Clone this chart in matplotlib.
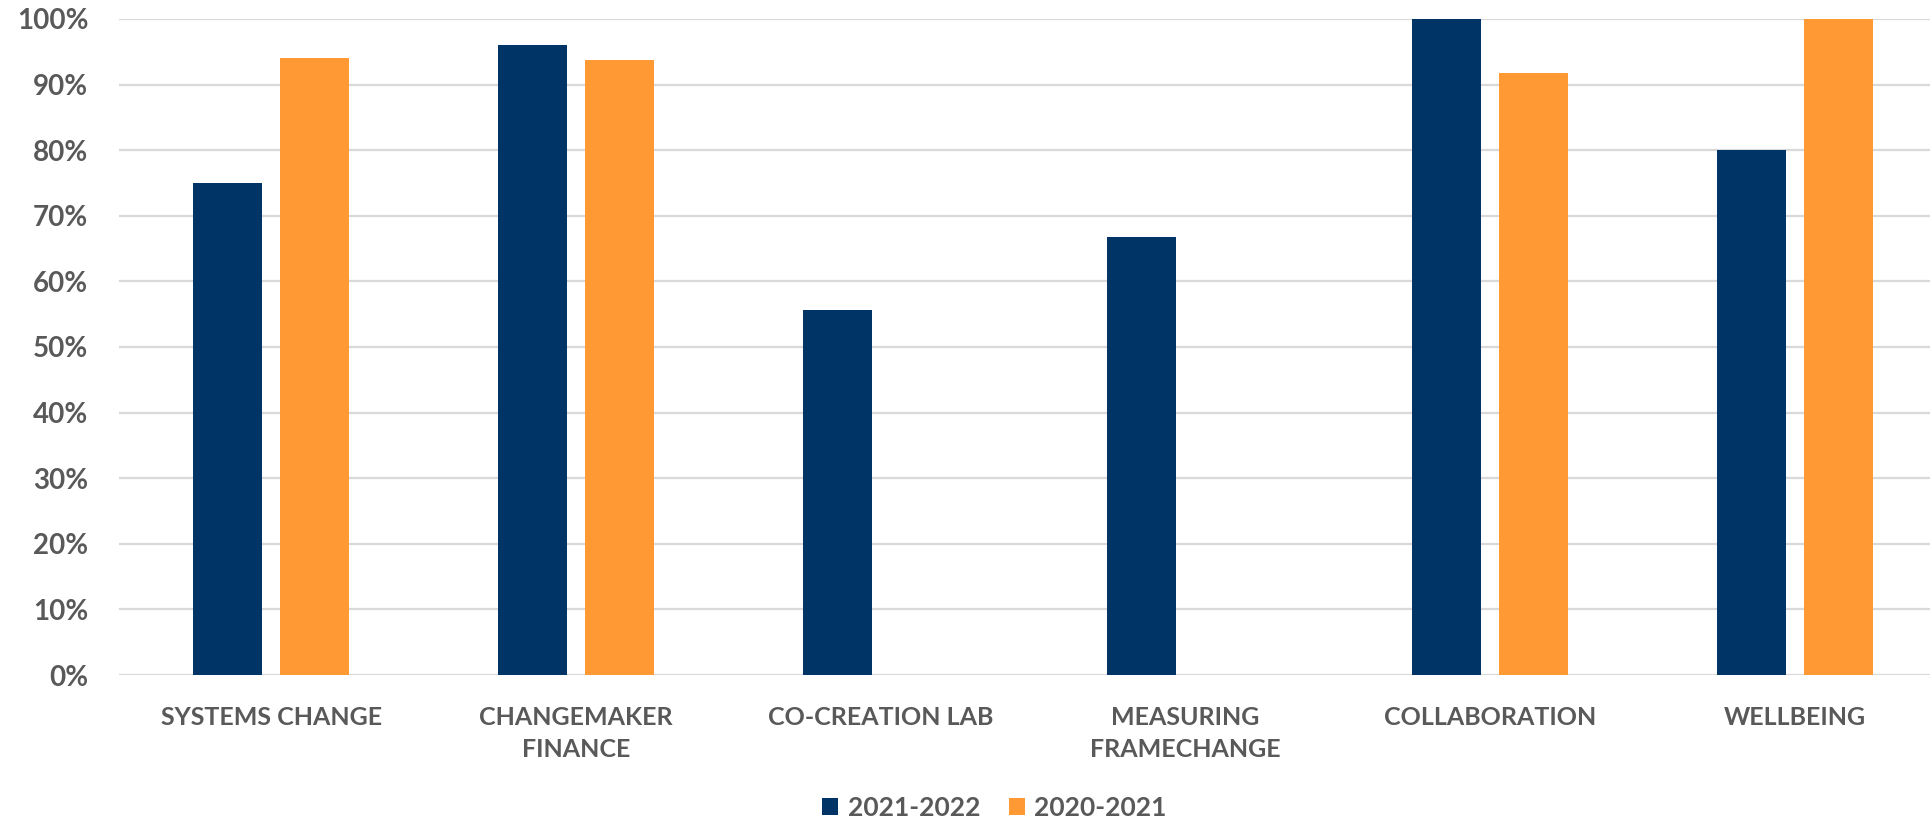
import numpy as np
import matplotlib
matplotlib.use("Agg")
from matplotlib import pyplot as plt
from matplotlib.ticker import PercentFormatter

# Survey results per programme area (share of participants, %)
categories = ["SYSTEMS CHANGE", "CHANGEMAKER\nFINANCE", "CO-CREATION LAB",
              "MEASURING\nFRAMECHANGE", "COLLABORATION", "WELLBEING"]
values_2122 = [75.0, 96.0, 55.6, 66.7, 100.0, 80.0]
values_2021 = [94.1, 93.8, 0.0, 0.0, 91.7, 100.0]
series_labels = ["2021-2022", "2020-2021"]
yticks = np.arange(0, 101, 10)

blue = '#003366'
orange = '#FF9933'
grey_txt = '#595959'

plt.rcParams['font.family'] = ['Lato', 'DejaVu Sans']

fig = plt.figure(figsize=(19.31, 8.19), dpi=100)
ax = fig.add_axes([119 / 1931, 1 - 675 / 819, 1 - 119 / 1931, (675 - 19) / 819])

ind = np.arange(len(categories))
width = 0.226
off = 0.1425
rects1 = ax.bar(ind - off, values_2122, width, color=blue, zorder=3)
rects2 = ax.bar(ind + off, values_2021, width, color=orange, zorder=3)

ax.set_ylim(0, 100)
ax.set_xlim(-0.5, 5.5 - 16 / 304.7)
ax.set_yticks(yticks)
ax.yaxis.set_major_formatter(PercentFormatter(decimals=0))
ax.yaxis.grid(True, color='#D9D9D9', linewidth=1.6, zorder=0)
ax.set_axisbelow(True)
for s in ax.spines.values():
    s.set_visible(False)

ax.set_xticks(ind)
ax.set_xticklabels(categories, fontsize=18, fontweight='bold', color=grey_txt,
                   linespacing=1.5)
ax.tick_params(axis='x', length=0, pad=22)
ax.tick_params(axis='y', length=0, pad=22, labelsize=20, labelcolor=grey_txt)
for lab in ax.get_yticklabels():
    lab.set_fontweight('bold')

leg = fig.legend((rects1[0], rects2[0]), series_labels,
                 loc='center', bbox_to_anchor=(0.515, 1 - 808 / 819), ncol=2,
                 frameon=False, handlelength=0.6, handleheight=0.6,
                 columnspacing=1.1, handletextpad=0.35, borderpad=0,
                 prop={'size': 19, 'weight': 'bold'})
for t in leg.get_texts():
    t.set_color(grey_txt)

plt.savefig("out.png", dpi=100)
